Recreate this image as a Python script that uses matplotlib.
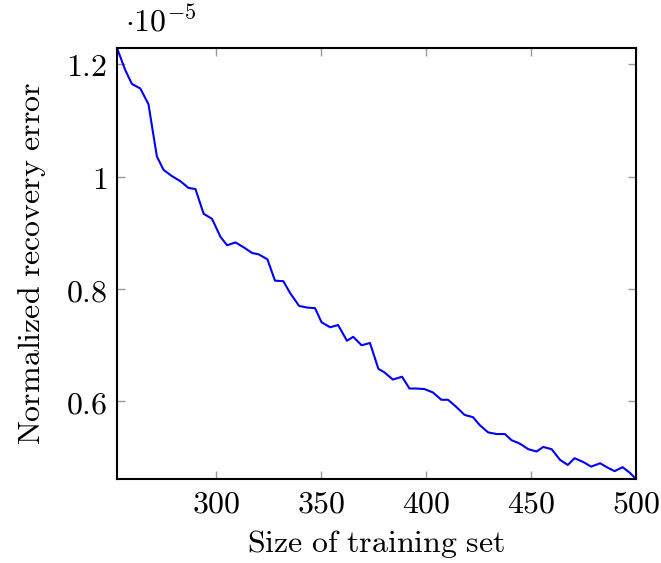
import matplotlib
matplotlib.use("Agg")
import matplotlib.pyplot as plt
from matplotlib.ticker import FuncFormatter

plt.rcParams['mathtext.fontset'] = 'cm'
plt.rcParams['font.family'] = 'serif'
plt.rcParams['font.serif'] = ['DejaVu Serif']

# training set size
sizes = [252.6, 256.5, 259.7, 263.7, 267.6, 271.6, 274.8, 278.8, 282.8, 286.7,
         290.0, 293.9, 297.9, 301.9, 305.1, 309.1, 313.1, 317.1, 320.0, 324.3,
         327.9, 331.9, 335.1, 339.4, 343.4, 347.0, 350.1, 354.2, 358.0, 362.2,
         365.2, 369.2, 373.2, 377.2, 380.0, 384.1, 388.5, 392.0, 395.2, 399.2,
         403.2, 407.2, 410.4, 414.4, 418.3, 422.3, 425.5, 429.5, 433.5, 437.5,
         440.7, 444.6, 448.7, 452.6, 455.8, 459.8, 463.8, 467.5, 470.7, 475.0,
         478.6, 482.9, 486.1, 489.8, 493.6, 497.1, 500.0]

# normalized recovery error (x 1e-5)
err = [1.229, 1.190, 1.165, 1.157, 1.129, 1.036, 1.012, 1.001, 0.992, 0.980,
       0.978, 0.934, 0.925, 0.893, 0.878, 0.883, 0.874, 0.864, 0.862, 0.853,
       0.815, 0.814, 0.793, 0.770, 0.767, 0.766, 0.741, 0.732, 0.736, 0.708,
       0.715, 0.700, 0.704, 0.658, 0.652, 0.639, 0.644, 0.623, 0.623, 0.622,
       0.616, 0.603, 0.603, 0.590, 0.576, 0.572, 0.558, 0.545, 0.542, 0.542,
       0.531, 0.525, 0.515, 0.511, 0.519, 0.515, 0.496, 0.487, 0.499, 0.492,
       0.484, 0.490, 0.483, 0.476, 0.483, 0.473, 0.462]

xticks = [300, 350, 400, 450, 500]
yticks = [0.6, 0.8, 1.0, 1.2]

fig = plt.figure(figsize=(6.61, 5.63), dpi=100)
ax = fig.add_axes([117/661, 1 - 479/563, (636-117)/661, (479-48)/563])

ax.plot(sizes, err, color='#0000ff', linewidth=1.5)

ax.set_xlim(min(sizes), max(sizes))
ax.set_ylim(min(err), max(err))
ax.set_xticks(xticks)
ax.set_yticks(yticks)

def fmt(v, pos):
    return '$' + ('%g' % v) + '$'

ax.xaxis.set_major_formatter(FuncFormatter(fmt))
ax.yaxis.set_major_formatter(FuncFormatter(fmt))
ax.tick_params(direction='in', length=6, width=1, color='#999999',
               top=True, right=True, labelsize=23, pad=7)

for s in ax.spines.values():
    s.set_linewidth(1.5)

ax.set_xlabel(r'$\mathrm{Size\ of\ training\ set}$', fontsize=23, labelpad=6)
ax.set_ylabel(r'$\mathrm{Normalized\ recovery\ error}$', fontsize=23, labelpad=13)

fig.text(125/661, 1 - 32/563, r'$\cdot10^{-5}$', fontsize=23, ha='left', va='baseline')

fig.savefig('out.png', dpi=100)
